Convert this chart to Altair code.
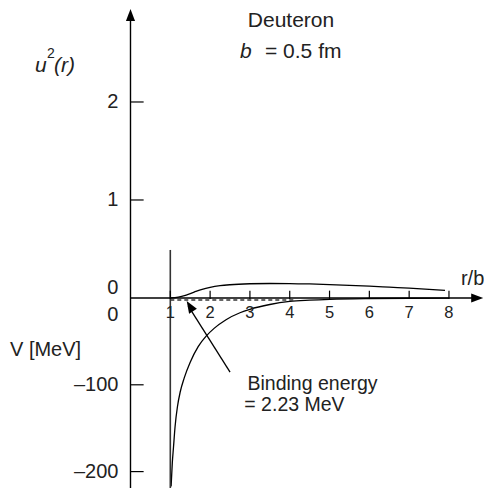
import altair as alt
import pandas as pd

# ---- data ----
r_u2 = [1.0, 1.2, 1.4, 1.6, 1.8, 2.0, 2.25, 2.5, 3.0, 3.5, 4.0, 4.5, 5.0, 5.5, 6.0, 6.5, 7.0, 7.5, 7.9]
u2 = [0.0, 0.008, 0.03, 0.06, 0.088, 0.108, 0.125, 0.135, 0.145, 0.148, 0.147, 0.143, 0.137, 0.129, 0.12, 0.11, 0.1, 0.088, 0.077]

r_v = [1.02, 1.05, 1.08, 1.12, 1.18, 1.25, 1.35, 1.5, 1.7, 1.9, 2.1, 2.4, 2.75, 3.0, 3.5, 4.0, 4.5, 5.0, 6.0, 7.0, 8.0]
v = [-217, -190, -172, -148, -125, -108, -92, -74, -56, -44, -35, -25, -17, -13, -7.5, -4, -2.5, -1.5, -0.6, -0.3, -0.1]

binding_energy = -2.23
r_binding = [1.0, 4.1]
r_core = 1.0
x_ticks = [1, 2, 3, 4, 5, 6, 7, 8]
u2_ticks = [1, 2]
v_ticks = [-100, -200]

FONT = "Liberation Sans"
XS = alt.Scale(domain=[-3.077, 8.880], nice=False, zero=False)
US = alt.Scale(domain=[-1.939, 2.959], nice=False, zero=False)
VS = alt.Scale(domain=[-218.9, 334.1], nice=False, zero=False)


def X(f="x"):
    return alt.X(f"{f}:Q", scale=XS, axis=None)


def YU(f="y"):
    return alt.Y(f"{f}:Q", scale=US, axis=None)


def YV(f="y"):
    return alt.Y(f"{f}:Q", scale=VS, axis=None)


layers = []

# u^2(r) curve
layers.append(alt.Chart(pd.DataFrame({"x": r_u2, "y": u2})).mark_line(
    color="black", strokeWidth=1.3, interpolate="monotone").encode(x=X(), y=YU()))

# potential curve
layers.append(alt.Chart(pd.DataFrame({"x": r_v, "y": v})).mark_line(
    color="black", strokeWidth=1.3, interpolate="monotone").encode(x=X(), y=YV()))

# binding energy dashed line
layers.append(alt.Chart(pd.DataFrame({"x": [r_binding[0]], "x2": [r_binding[1]], "y": [binding_energy]})).mark_rule(
    color="#333333", strokeWidth=1.5, strokeDash=[4, 3]).encode(x=X(), x2="x2:Q", y=YV()))

# hard core wall
layers.append(alt.Chart(pd.DataFrame({"x": [r_core], "y": [-1.939], "y2": [0.49]})).mark_rule(
    color="#333333", strokeWidth=1.6).encode(x=X(), y=YU(), y2="y2:Q"))

# axes lines
layers.append(alt.Chart(pd.DataFrame({"x": [0.0], "y": [-1.939], "y2": [2.85]})).mark_rule(
    color="black", strokeWidth=1.4).encode(x=X(), y=YU(), y2="y2:Q"))
layers.append(alt.Chart(pd.DataFrame({"x": [0.0], "x2": [8.75], "y": [0.0]})).mark_rule(
    color="black", strokeWidth=1.4).encode(x=X(), x2="x2:Q", y=YU()))

ARROW = "M0,0L-0.38,1L0.38,1Z"
# arrow heads of the axes
layers.append(alt.Chart(pd.DataFrame({"x": [0.0], "y": [2.95]})).mark_point(
    shape=ARROW, filled=True, color="black", size=576, opacity=1, angle=0).encode(x=X(), y=YU()))
layers.append(alt.Chart(pd.DataFrame({"x": [8.86], "y": [0.0]})).mark_point(
    shape=ARROW, filled=True, color="black", size=576, opacity=1, angle=90).encode(x=X(), y=YU()))

# x ticks
layers.append(alt.Chart(pd.DataFrame({"x": x_ticks, "y": [-0.01] * len(x_ticks), "y2": [0.075] * len(x_ticks)})).mark_rule(
    color="black", strokeWidth=1.2).encode(x=X(), y=YU(), y2="y2:Q"))
# y ticks (u^2)
layers.append(alt.Chart(pd.DataFrame({"x": [0.0] * 2, "x2": [0.33] * 2, "y": u2_ticks})).mark_rule(
    color="black", strokeWidth=1.2).encode(x=X(), x2="x2:Q", y=YU()))
# y ticks (V)
layers.append(alt.Chart(pd.DataFrame({"x": [0.0] * 2, "x2": [0.33] * 2, "y": v_ticks})).mark_rule(
    color="black", strokeWidth=1.2).encode(x=X(), x2="x2:Q", y=YV()))

# tick labels
layers.append(alt.Chart(pd.DataFrame({"x": x_ticks, "y": [0.0] * len(x_ticks), "t": [str(t) for t in x_ticks]})).mark_text(
    font=FONT, fontSize=16.5, baseline="middle", align="center", dy=15, color="#222").encode(x=X(), y=YU(), text="t:N"))
layers.append(alt.Chart(pd.DataFrame({"x": [0.0] * 2, "y": u2_ticks[::-1], "t": [str(t) for t in u2_ticks[::-1]]})).mark_text(
    font=FONT, fontSize=20, baseline="middle", align="right", dx=-12, color="#222").encode(x=X(), y=YU(), text="t:N"))
layers.append(alt.Chart(pd.DataFrame({"x": [0.0], "y": [0.0], "t": ["0"]})).mark_text(
    font=FONT, fontSize=20, baseline="middle", align="right", dx=-12, dy=-10, color="#222").encode(x=X(), y=YU(), text="t:N"))
layers.append(alt.Chart(pd.DataFrame({"x": [0.0] * 2, "y": v_ticks, "t": ["\u2013100", "\u2013200"]})).mark_text(
    font=FONT, fontSize=20, baseline="middle", align="right", dx=-12, color="#222").encode(x=X(), y=YV(), text="t:N"))
layers.append(alt.Chart(pd.DataFrame({"x": [0.0], "y": [0.0], "t": ["0"]})).mark_text(
    font=FONT, fontSize=20, baseline="middle", align="right", dx=-12, dy=17, color="#222").encode(x=X(), y=YV(), text="t:N"))


def text_layer(xs, ys, texts, yscale, size, align="left", style="normal"):
    df = pd.DataFrame({"x": xs, "y": ys, "t": texts})
    return alt.Chart(df).mark_text(font=FONT, fontSize=size, baseline="alphabetic", align=align,
                                   fontStyle=style, color="#222").encode(
        x=X(), y=alt.Y("y:Q", scale=yscale, axis=None), text="t:N")


# titles / labels in u^2 units
layers.append(text_layer([4.032], [2.765], ["Deuteron"], US, 21, align="center"))
layers.append(text_layer([2.751], [2.449], ["b"], US, 21, style="italic"))
layers.append(text_layer([3.379], [2.449], ["= 0.5 fm"], US, 21))
layers.append(text_layer([-2.399, -1.922], [2.306, 2.306], ["u", "(r)"], US, 21, style="italic"))
layers.append(text_layer([-2.097], [2.449], ["2"], US, 14))
layers.append(text_layer([8.30], [0.133], ["r/b"], US, 20))
# labels in V units
layers.append(text_layer([-3.027], [-66.8], ["V [MeV]"], VS, 20))
layers.append(text_layer([2.939, 2.859], [-106.0, -130.2], ["Binding energy", "= 2.23 MeV"], VS, 19.5))

# annotation arrow to binding energy
layers.append(alt.Chart(pd.DataFrame({"x": [2.501, 1.45], "y": [-85.3, -9.0]})).mark_line(
    color="black", strokeWidth=1.3).encode(x=X(), y=YV()))
layers.append(alt.Chart(pd.DataFrame({"x": [1.412], "y": [-3.5]})).mark_point(
    shape=ARROW, filled=True, color="black", size=576, opacity=1, angle=328.4).encode(x=X(), y=YV()))

chart = alt.layer(*layers).resolve_scale(y="independent").properties(
    width=476, height=480, padding=0,
    autosize=alt.AutoSizeParams(type="none"),
    background="white",
).configure_view(stroke=None)

chart.save("out.html", embed_options={"renderer": "svg", "actions": False})
